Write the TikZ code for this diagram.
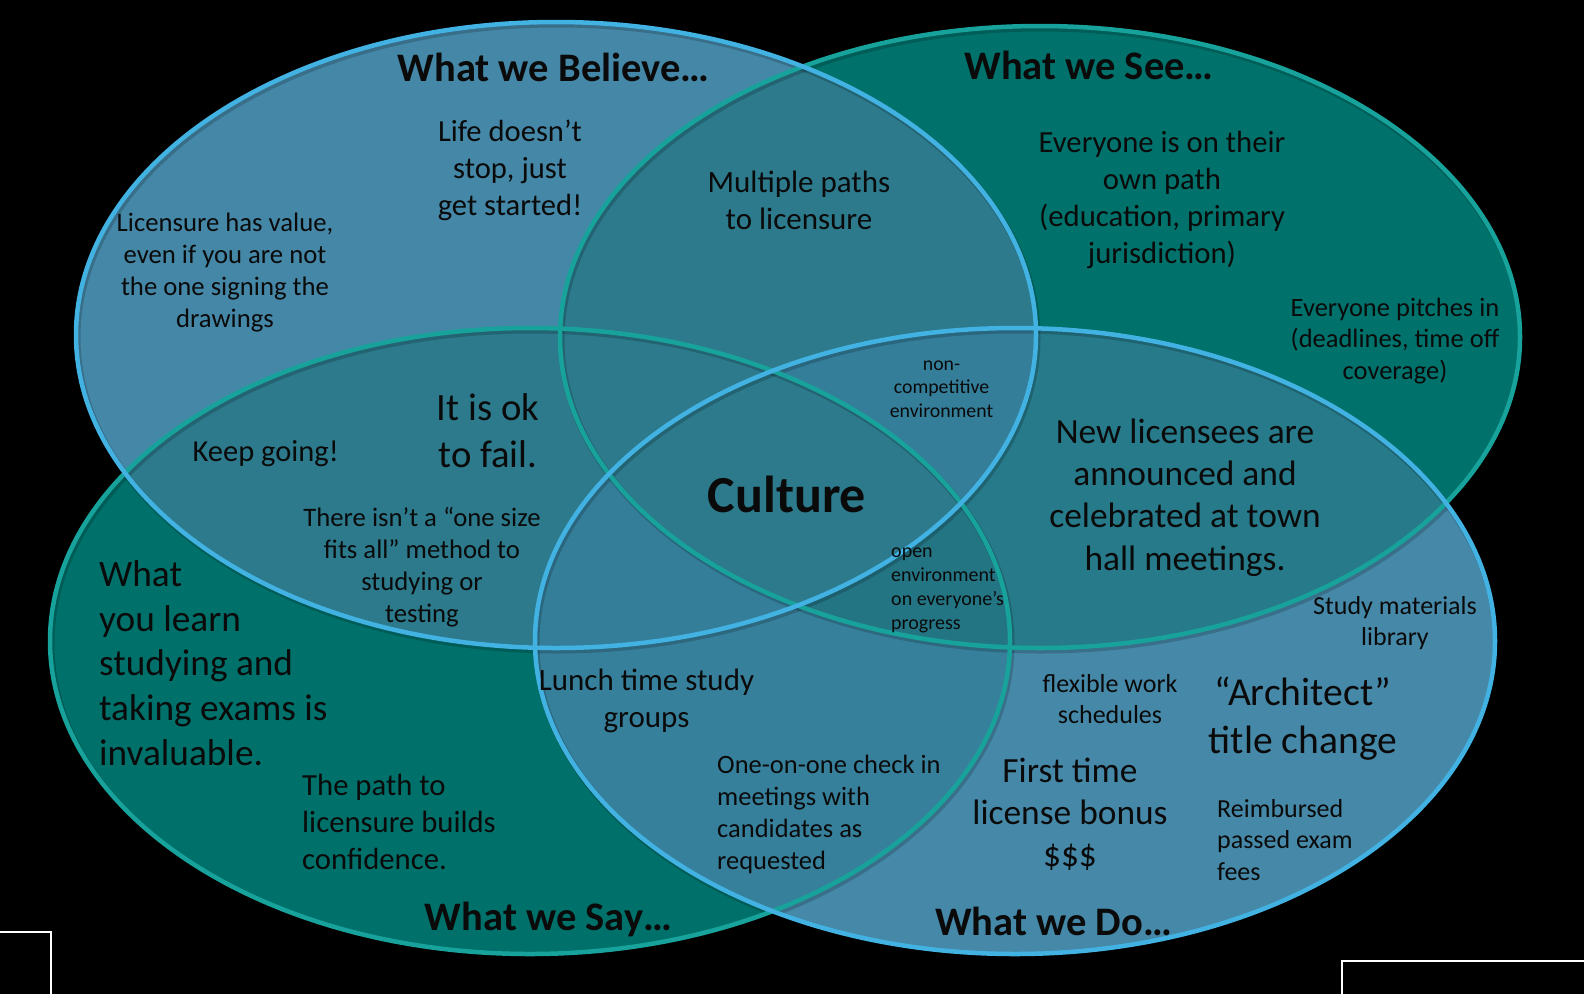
\documentclass[tikz,border=0pt]{standalone}
\usepackage{fontspec}
\setmainfont{Carlito}
\definecolor{cB}{HTML}{4587A7}
\definecolor{cS}{HTML}{00726B}
\definecolor{cY}{HTML}{00716A}
\definecolor{cD}{HTML}{4688A8}
\definecolor{cOv}{HTML}{2C7A8C}
\definecolor{cYD}{HTML}{37809C}
\definecolor{cSD}{HTML}{277A8A}
\definecolor{cTrB}{HTML}{347E9A}
\definecolor{cSYD}{HTML}{247584}
\definecolor{lnB}{HTML}{42B2E3}
\definecolor{lnT}{HTML}{17A39B}
\definecolor{txt}{HTML}{0A0A0A}
\begin{document}
\begin{tikzpicture}[x=1pt,y=-1pt,
  lbl/.style={inner sep=0pt, text=txt, align=center},
  lbll/.style={inner sep=0pt, text=txt, align=left, anchor=west},
  ttl/.style={inner sep=0pt, text=txt, font={\fontsize{40.5}{48}\selectfont\bfseries}},
  ring/.style={line width=4.5pt},
  shade/.style={line width=6pt, black, opacity=0.18, shift={(1.5,2.5)}}]
\fill[black] (0,0) rectangle (1584,994);
\useasboundingbox (0,0) rectangle (1584,994);
\def\pB{(556,335) ellipse [x radius=480pt, y radius=313pt]}
\def\pS{(1040,337) ellipse [x radius=480pt, y radius=311pt]}
\def\pY{(530,641) ellipse [x radius=480pt, y radius=313pt]}
\def\pD{(1015,641) ellipse [x radius=480pt, y radius=313pt]}
% base fills
\fill[cB] \pB; \fill[cS] \pS; \fill[cY] \pY; \fill[cD] \pD;
% pairwise
\begin{scope}\clip \pB; \fill[cOv] \pS; \end{scope}
\begin{scope}\clip \pB; \fill[cOv] \pY; \end{scope}
\begin{scope}\clip \pB; \fill[cOv] \pD; \end{scope}
\begin{scope}\clip \pS; \fill[cOv] \pY; \end{scope}
\begin{scope}\clip \pS; \fill[cSD] \pD; \end{scope}
\begin{scope}\clip \pY; \fill[cYD] \pD; \end{scope}
% triples
\begin{scope}\clip \pB; \clip \pS; \fill[cOv] \pY; \end{scope}
\begin{scope}\clip \pB; \clip \pS; \fill[cTrB] \pD; \end{scope}
\begin{scope}\clip \pB; \clip \pY; \fill[cTrB] \pD; \end{scope}
\begin{scope}\clip \pS; \clip \pY; \fill[cSYD] \pD; \end{scope}
% quad
\begin{scope}\clip \pB; \clip \pS; \clip \pY; \fill[cOv] \pD; \end{scope}
% soft shadows under outlines
\draw[shade] \pS; \draw[shade] \pY; \draw[shade] \pB; \draw[shade] \pD;
% outlines
\draw[ring, lnT] \pS;
\draw[ring, lnT] \pY;
\draw[ring, lnB] \pB;
\draw[ring, lnB] \pD;
% corner marks
\draw[white, line width=2pt] (0,932) -- (51,932) -- (51,994);
\draw[white, line width=2pt] (1342,994) -- (1342,961) -- (1584,961);
% titles
\node[ttl] (tB) at (553.6,67.7) {What we Believe…};
\node[ttl] (tS) at (1089,65.7) {What we See…};
\node[ttl] (tY) at (548.5,919) {What we Say…};
\node[ttl] (tD) at (1053.6,921) {What we Do…};
% texts
\node[lbl, font={\fontsize{30.6}{37}\selectfont}] (life) at (510,170.6) {Life doesn’t\\stop, just\\get started!};
\node[lbl, font={\fontsize{26.7}{32}\selectfont}] (lic) at (225,272.5) {Licensure has value,\\even if you are not\\the one signing the\\drawings};
\node[lbl, font={\fontsize{31}{37.4}\selectfont}] (multi) at (799,200.5) {Multiple paths\\to licensure};
\node[lbl, font={\fontsize{30.7}{36.9}\selectfont}] (own) at (1162,199.7) {Everyone is on their\\own path\\(education, primary\\jurisdiction)};
\node[lbl, font={\fontsize{26.5}{31.8}\selectfont}] (pitch) at (1395,341) {Everyone pitches in\\(deadlines, time off\\coverage)};
\node[lbl, font={\fontsize{19.8}{23.7}\selectfont}] (noncomp) at (941.5,389.2) {non-\\competitive\\environment};
\node[lbl, font={\fontsize{38.7}{46.5}\selectfont}] (okfail) at (488,430.8) {It is ok\\to fail.};
\node[lbl, font={\fontsize{30.5}{36}\selectfont}] (keep) at (265.7,453.5) {Keep going!};
\node[lbl, font={\fontsize{52}{60}\selectfont\bfseries}] (culture) at (787,494) {Culture};
\node[lbl, font={\fontsize{26.7}{32}\selectfont}] (onesize) at (422,567.5) {There isn’t a “one size\\fits all” method to\\studying or\\testing};
\node[lbl, font={\fontsize{35.4}{42.4}\selectfont}] (newlic) at (1185,497.5) {New licensees are\\announced and\\celebrated at town\\hall meetings.};
\node[lbll, font={\fontsize{20}{24}\selectfont}] (openenv) at (891,590) {open\\environment\\on everyone’s\\progress};
\node[lbl, font={\fontsize{26}{31.3}\selectfont}] (studymat) at (1395,622.8) {Study materials\\library};
\node[lbll, font={\fontsize{37.3}{44.7}\selectfont}] (learn) at (99,663) {What\\you learn\\studying and\\taking exams is\\invaluable.};
\node[lbl, font={\fontsize{31}{37.4}\selectfont}] (lunch) at (646.5,700.6) {Lunch time study\\groups};
\node[lbll, font={\fontsize{30.7}{36.9}\selectfont}] (pathconf) at (302,822) {The path to\\licensure builds\\confidence.};
\node[lbll, font={\fontsize{26.5}{31.8}\selectfont}] (oneonone) at (717,814.5) {One-on-one check in\\meetings with\\candidates as\\requested};
\node[lbl, font={\fontsize{26}{31.3}\selectfont}] (flex) at (1110,699) {flexible work\\schedules};
\node[lbl, font={\fontsize{39.6}{47.5}\selectfont}] (arch) at (1303,718.7) {“Architect”\\title change};
\node[lbl, font={\fontsize{35.4}{42.4}\selectfont}] (bonus) at (1070,814.2) {First time\\license bonus\\\$\$\$};
\node[lbll, font={\fontsize{26}{31.3}\selectfont}] (reimb) at (1217,840) {Reimbursed\\passed exam\\fees};
\end{tikzpicture}
\end{document}
